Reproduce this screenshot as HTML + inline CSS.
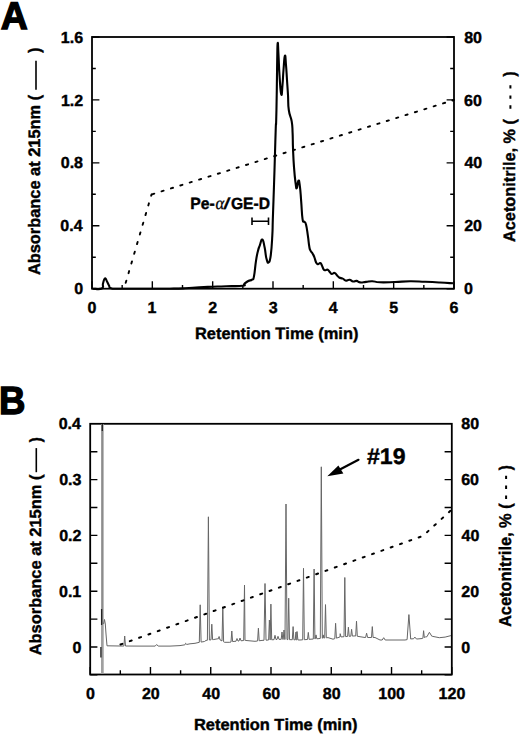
<!DOCTYPE html>
<html><head><meta charset="utf-8"><style>
html,body{margin:0;padding:0;background:#fff;}
svg{display:block;font-family:"Liberation Sans", sans-serif;font-weight:bold;font-kerning:none;text-rendering:geometricPrecision;}
text{fill:#000;stroke:#000;stroke-width:0.4px;}
</style></head><body>
<svg width="520" height="734" viewBox="0 0 520 734">
<rect width="520" height="734" fill="#fff"/>
<rect x="92.0" y="37.0" width="362.0" height="251.7" fill="none" stroke="#000" stroke-width="1.8"/>
<path d="M92.0,288.70h7.4M454.0,288.70h-7.4M92.0,225.77h7.4M454.0,225.77h-7.4M92.0,162.85h7.4M454.0,162.85h-7.4M92.0,99.92h7.4M454.0,99.92h-7.4M92.0,37.00h7.4M454.0,37.00h-7.4M92.0,257.24h3.8M454.0,257.24h-3.8M92.0,194.31h3.8M454.0,194.31h-3.8M92.0,131.39h3.8M454.0,131.39h-3.8M92.0,68.46h3.8M454.0,68.46h-3.8M92.00,288.7v-7.4M152.33,288.7v-7.4M212.67,288.7v-7.4M273.00,288.7v-7.4M333.33,288.7v-7.4M393.67,288.7v-7.4M454.00,288.7v-7.4M122.17,288.7v-3.8M182.50,288.7v-3.8M242.83,288.7v-3.8M303.17,288.7v-3.8M363.50,288.7v-3.8M423.83,288.7v-3.8" stroke="#000" stroke-width="1.4" fill="none"/>
<path d="M93.00,288.70C95.35,288.65 99.13,289.89 101.80,288.50C104.47,287.11 102.17,286.17 103.00,283.50C103.83,280.83 103.83,279.03 104.90,278.50C105.97,277.97 105.91,279.63 107.00,281.50C108.09,283.37 107.93,283.71 109.00,285.50C110.07,287.29 108.07,287.35 111.00,288.20C113.93,289.05 109.60,288.57 120.00,288.70C130.40,288.83 136.67,288.70 150.00,288.70C163.33,288.70 160.67,288.81 170.00,288.70C179.33,288.59 177.21,288.67 185.00,288.30C192.79,287.93 191.81,287.73 199.20,287.30C206.59,286.87 205.50,286.99 212.70,286.70C219.90,286.41 218.25,286.44 226.20,286.20C234.15,285.96 237.65,286.44 242.50,285.80C247.35,285.16 242.85,285.08 244.40,283.80C245.95,282.52 246.25,282.12 248.30,281.00C250.35,279.88 250.58,280.88 252.10,279.60C253.62,278.32 252.96,281.21 254.00,276.20C255.04,271.19 254.96,267.47 256.00,260.80C257.04,254.13 256.89,255.31 257.90,251.20C258.91,247.09 258.63,248.49 259.80,245.40C260.97,242.31 261.02,239.09 262.30,239.60C263.58,240.11 263.48,242.18 264.60,247.30C265.72,252.42 265.38,254.80 266.50,258.80C267.62,262.80 267.65,263.31 268.80,262.30C269.95,261.29 269.87,262.07 270.80,255.00C271.73,247.93 271.77,245.13 272.30,235.80C272.83,226.47 272.48,229.55 272.80,220.00C273.12,210.45 273.05,213.33 273.50,200.00C273.95,186.67 273.91,188.67 274.50,170.00C275.09,151.33 275.25,143.33 275.70,130.00C276.15,116.67 275.91,130.67 276.20,120.00C276.49,109.33 276.53,106.00 276.80,90.00C277.07,74.00 276.96,72.53 277.20,60.00C277.44,47.47 277.35,44.33 277.70,43.00C278.05,41.67 278.02,46.47 278.50,55.00C278.98,63.53 278.78,64.52 279.50,75.00C280.22,85.48 280.40,91.63 281.20,94.30C282.00,96.97 281.89,91.48 282.50,85.00C283.11,78.52 282.86,77.79 283.50,70.00C284.14,62.21 284.23,57.13 284.90,55.80C285.57,54.47 285.44,58.55 286.00,65.00C286.56,71.45 286.47,72.00 287.00,80.00C287.53,88.00 287.52,87.00 288.00,95.00C288.48,103.00 287.81,102.96 288.80,110.00C289.79,117.04 290.69,115.29 291.70,121.40C292.71,127.51 292.25,125.78 292.60,132.90C292.95,140.02 292.63,138.95 293.00,148.10C293.37,157.25 293.33,158.03 294.00,167.20C294.67,176.37 294.75,176.90 295.50,182.50C296.25,188.10 296.03,188.71 296.80,188.20C297.57,187.69 297.57,181.11 298.40,180.60C299.23,180.09 299.15,180.70 299.90,186.30C300.65,191.90 300.51,192.96 301.20,201.60C301.89,210.24 301.73,213.37 302.50,218.70C303.27,224.03 303.17,220.08 304.10,221.60C305.03,223.12 304.99,220.59 306.00,224.40C307.01,228.21 307.05,230.14 307.90,235.90C308.75,241.66 308.53,242.13 309.20,246.00C309.87,249.87 309.47,248.32 310.40,250.40C311.33,252.48 311.63,251.96 312.70,253.80C313.77,255.64 313.49,254.98 314.40,257.30C315.31,259.62 315.17,260.66 316.10,262.50C317.03,264.34 316.81,264.04 317.90,264.20C318.99,264.36 319.13,262.78 320.20,263.10C321.27,263.42 320.99,263.72 321.90,265.40C322.81,267.08 322.67,268.12 323.60,269.40C324.53,270.68 324.31,270.09 325.40,270.20C326.49,270.31 326.47,269.24 327.70,269.80C328.93,270.36 328.93,271.18 330.00,272.30C331.07,273.42 330.47,273.84 331.70,274.00C332.93,274.16 333.21,272.58 334.60,272.90C335.99,273.22 335.67,273.97 336.90,275.20C338.13,276.43 337.65,276.59 339.20,277.50C340.75,278.41 340.86,277.77 342.70,278.60C344.54,279.43 344.26,280.28 346.10,280.60C347.94,280.92 347.73,279.56 349.60,279.80C351.47,280.04 351.26,281.21 353.10,281.50C354.94,281.79 354.66,280.66 356.50,280.90C358.34,281.14 357.47,282.13 360.00,282.40C362.53,282.67 362.72,282.22 366.00,281.90C369.28,281.58 368.57,281.09 372.30,281.20C376.03,281.31 373.95,282.09 380.00,282.30C386.05,282.51 387.00,282.27 395.00,282.00C403.00,281.73 402.00,281.35 410.00,281.30C418.00,281.25 417.00,281.48 425.00,281.80C433.00,282.12 432.53,282.10 440.00,282.50C447.47,282.90 449.53,283.09 453.00,283.30" fill="none" stroke="#000" stroke-width="2.1" stroke-linejoin="round"/>
<path d="M124,288.7L151.5,194.5" fill="none" stroke="#000" stroke-width="1.9" stroke-dasharray="2.2 7.88" stroke-dashoffset="3.98" stroke-linecap="round"/>
<path d="M151.5,194.5L454,100" fill="none" stroke="#000" stroke-width="1.9" stroke-dasharray="2.2 7.63" stroke-dashoffset="9.13" stroke-linecap="round"/>
<path d="M252,221.2h16.5M252,217.5v7.5M268.5,217.5v7.5" stroke="#000" stroke-width="1.6" fill="none"/>
<text style="stroke-width:1.4px" font-size="38.663" transform="matrix(0.9676,0,0,1,0.77,28.80)">A</text>
<text font-size="16.000" transform="matrix(1.0000,0,0,1,74.26,294.30)">0</text>
<text font-size="16.000" transform="matrix(1.0000,0,0,1,60.34,231.37)">0.4</text>
<text font-size="16.000" transform="matrix(1.0000,0,0,1,60.75,168.45)">0.8</text>
<text font-size="16.000" transform="matrix(1.0000,0,0,1,60.90,105.52)">1.2</text>
<text font-size="16.000" transform="matrix(1.0000,0,0,1,60.84,42.60)">1.6</text>
<text font-size="16.000" transform="matrix(1.0000,0,0,1,464.07,294.30)">0</text>
<text font-size="16.000" transform="matrix(1.0000,0,0,1,464.15,231.37)">20</text>
<text font-size="16.000" transform="matrix(1.0000,0,0,1,464.46,168.45)">40</text>
<text font-size="16.000" transform="matrix(1.0000,0,0,1,464.11,105.52)">60</text>
<text font-size="16.000" transform="matrix(1.0000,0,0,1,464.19,42.60)">80</text>
<text font-size="16.000" transform="matrix(1.0000,0,0,1,87.56,313.20)">0</text>
<text font-size="16.000" transform="matrix(1.0000,0,0,1,147.60,313.20)">1</text>
<text font-size="16.000" transform="matrix(1.0000,0,0,1,208.26,313.20)">2</text>
<text font-size="16.000" transform="matrix(1.0000,0,0,1,268.66,313.20)">3</text>
<text font-size="16.000" transform="matrix(1.0000,0,0,1,328.81,313.20)">4</text>
<text font-size="16.000" transform="matrix(1.0000,0,0,1,389.19,313.20)">5</text>
<text font-size="16.000" transform="matrix(1.0000,0,0,1,449.55,313.20)">6</text>
<text font-size="16.352" transform="matrix(1.0062,0,0,1,194.90,338.90)">Retention Time (min)</text>
<text font-size="16.643" transform="matrix(0,-0.9852,1,0,39.65,275.11)">Absorbance at 215nm (</text>
<text font-size="16.643" transform="matrix(0,-0.9155,1,0,39.65,52.81)">)</text>
<path d="M36,60.8V89.8" stroke="#000" stroke-width="1.6"/>
<text font-size="16.570" transform="matrix(0,-0.9817,1,0,515.30,241.91)">Acetonitrile, % (</text>
<text font-size="16.570" transform="matrix(0,-0.9195,1,0,515.30,76.51)">)</text>
<path d="M510.4,85.2v3.4M510.4,95.4v3.4M510.4,105.3v3.4" stroke="#000" stroke-width="2"/>
<text font-size="16.279" transform="matrix(0.9664,0,0,1,190.15,209.30)">Pe-</text>
<text style="stroke-width:0.25px" font-size="18.052" transform="matrix(0.9201,0,0,1,215.61,209.41)"><tspan font-family='"Liberation Serif", serif' font-weight="normal" font-style="italic">α</tspan></text>
<text font-size="16.068" transform="matrix(1.5456,0,0,1,223.60,209.44)"><tspan font-family='"Liberation Sans", sans-serif' font-weight="normal" font-style="normal">/</tspan></text>
<text font-size="16.279" transform="matrix(0.9607,0,0,1,230.96,209.30)">GE-D</text>
<rect x="90.2" y="423.8" width="361.6" height="250.7" fill="none" stroke="#000" stroke-width="1.8"/>
<path d="M90.2,674.90h7.2M451.8,674.90h-7.2M90.2,647.00h7.2M451.8,647.00h-7.2M90.2,619.10h7.2M451.8,619.10h-7.2M90.2,591.20h7.2M451.8,591.20h-7.2M90.2,563.30h7.2M451.8,563.30h-7.2M90.2,535.40h7.2M451.8,535.40h-7.2M90.2,507.50h7.2M451.8,507.50h-7.2M90.2,479.60h7.2M451.8,479.60h-7.2M90.2,451.70h7.2M451.8,451.70h-7.2M90.20,674.5v-7.6M150.47,674.5v-7.6M210.73,674.5v-7.6M271.00,674.5v-7.6M331.27,674.5v-7.6M391.53,674.5v-7.6M451.80,674.5v-7.6M120.33,674.5v-4.3M180.60,674.5v-4.3M240.87,674.5v-4.3M301.13,674.5v-4.3M361.40,674.5v-4.3M421.67,674.5v-4.3" stroke="#000" stroke-width="1.4" fill="none"/>
<rect x="101.0" y="424" width="2.7" height="250" fill="#a0a0a0"/><rect x="101.9" y="424" width="0.9" height="200" fill="#888"/>
<path d="M101.6,609V625M100.9,647V657.5M102.3,424V431" stroke="#222" stroke-width="1.3"/>
<polyline points="103.60,624.00 104.50,619.50 105.30,624.00 106.00,634.00 107.00,645.80 120.00,646.00 123.90,646.02 124.70,636.00 125.50,646.03 140.00,646.10 155.20,646.10 156.70,644.50 158.20,646.10 170.00,646.10 180.00,645.60 184.40,644.90 185.00,644.80 185.60,643.30 186.80,644.44 190.00,643.80 195.00,643.30 199.00,642.40 199.30,642.35 200.20,604.80 201.10,642.06 204.50,641.50 206.00,640.40 207.40,640.25 208.40,516.80 209.40,640.03 211.00,639.85 211.80,624.20 212.60,639.68 213.30,639.60 217.50,638.80 218.10,639.07 219.10,636.50 220.10,639.99 221.00,640.40 222.00,640.94 222.80,606.80 223.60,641.81 224.50,642.30 229.80,642.30 231.00,642.00 231.80,631.00 232.60,641.60 233.00,641.50 236.00,641.23 237.00,638.50 238.00,641.04 239.00,640.95 240.00,638.00 241.00,640.77 243.70,640.52 244.50,585.00 245.00,640.40 245.30,640.43 255.00,641.30 257.60,640.97 258.40,628.20 259.20,640.76 262.00,640.40 264.00,640.28 265.00,583.50 266.00,640.16 268.60,640.00 269.40,620.00 270.10,639.90 270.20,639.90 270.90,604.10 271.70,639.81 274.00,639.67 275.00,635.30 276.00,639.54 277.00,639.48 278.00,636.30 279.00,639.36 280.00,639.30 281.20,639.34 282.00,632.00 282.80,639.40 283.20,639.41 284.00,630.00 284.80,639.47 285.00,639.47 286.00,504.00 287.00,639.54 287.90,639.58 288.70,598.20 289.50,639.63 292.30,639.73 293.10,626.60 293.90,639.79 295.20,639.83 296.00,632.00 296.10,639.86 296.80,639.89 297.00,631.50 297.90,639.93 300.00,640.00 302.70,639.81 303.50,568.30 304.30,639.69 307.50,639.46 308.30,632.40 309.10,639.34 313.30,639.04 314.10,569.00 314.90,638.92 315.20,638.90 316.00,634.90 316.80,638.79 318.00,638.70 320.30,638.45 321.30,466.80 322.30,638.23 322.60,638.19 323.20,634.90 323.80,638.06 324.70,637.96 325.50,604.60 326.30,637.79 328.00,637.60 333.00,639.20 334.80,638.63 335.60,623.30 336.40,638.13 339.40,637.19 340.00,637.00 340.20,633.70 341.00,636.93 344.00,636.71 344.80,577.50 345.60,636.59 347.60,636.44 348.40,627.20 349.20,636.33 350.80,636.21 351.60,629.30 352.40,636.09 355.00,635.90 355.70,636.01 356.50,621.20 357.30,636.27 365.00,637.50 365.60,637.50 366.60,633.20 367.60,637.50 371.50,637.50 372.30,626.60 373.10,637.50 375.00,637.50 380.00,640.00 382.20,640.00 383.70,637.70 385.20,640.00 395.00,640.00 405.00,640.00 407.10,639.64 408.90,614.60 410.70,639.02 412.00,638.80 413.40,638.86 414.90,637.10 416.40,638.98 417.00,639.00 422.30,638.50 422.90,638.21 423.60,630.70 424.30,637.53 425.60,636.90 426.90,636.78 429.40,632.30 431.90,636.34 432.30,636.30 439.30,637.70 445.10,637.10 451.00,635.60" fill="none" stroke="#666" stroke-width="1.0" stroke-linejoin="round"/>
<polyline points="120.50,644.50 421.00,536.60 427.00,532.20 451.00,510.30" fill="none" stroke="#000" stroke-width="2.0" stroke-dasharray="2.0 7.9" stroke-linecap="round"/>
<path d="M358.5,459.8L337,471" stroke="#000" stroke-width="2.2" fill="none" stroke-linecap="round"/>
<path d="M327.3,476.3L338.4,465.4L343.4,473.6Z" fill="#000"/>
<text style="stroke-width:1.4px" font-size="39.390" transform="matrix(0.9283,0,0,1,-0.95,414.30)">B</text>
<text font-size="16.000" transform="matrix(1.0000,0,0,1,72.56,652.60)">0</text>
<text font-size="16.000" transform="matrix(1.0000,0,0,1,59.00,596.80)">0.1</text>
<text font-size="16.000" transform="matrix(1.0000,0,0,1,59.20,541.00)">0.2</text>
<text font-size="16.000" transform="matrix(1.0000,0,0,1,59.14,485.20)">0.3</text>
<text font-size="16.000" transform="matrix(1.0000,0,0,1,58.64,429.40)">0.4</text>
<text font-size="16.000" transform="matrix(1.0000,0,0,1,461.17,652.60)">0</text>
<text font-size="16.000" transform="matrix(1.0000,0,0,1,461.25,596.80)">20</text>
<text font-size="16.000" transform="matrix(1.0000,0,0,1,461.56,541.00)">40</text>
<text font-size="16.000" transform="matrix(1.0000,0,0,1,461.21,485.20)">60</text>
<text font-size="16.000" transform="matrix(1.0000,0,0,1,461.29,429.40)">80</text>
<text font-size="16.000" transform="matrix(1.0000,0,0,1,86.06,699.20)">0</text>
<text font-size="16.000" transform="matrix(1.0000,0,0,1,141.92,699.20)">20</text>
<text font-size="16.000" transform="matrix(1.0000,0,0,1,202.34,699.20)">40</text>
<text font-size="16.000" transform="matrix(1.0000,0,0,1,262.44,699.20)">60</text>
<text font-size="16.000" transform="matrix(1.0000,0,0,1,322.74,699.20)">80</text>
<text font-size="16.000" transform="matrix(1.0000,0,0,1,378.31,699.20)">100</text>
<text font-size="16.000" transform="matrix(1.0000,0,0,1,438.58,699.20)">120</text>
<text font-size="16.134" transform="matrix(1.0192,0,0,1,194.00,729.50)">Retention Time (min)</text>
<text font-size="16.279" transform="matrix(0,-1.0095,1,0,41.10,655.31)">Absorbance at 215nm (</text>
<text font-size="16.279" transform="matrix(0,-0.9359,1,0,41.10,442.21)">)</text>
<path d="M36.3,448.1V472.2" stroke="#000" stroke-width="1.6"/>
<text font-size="17.006" transform="matrix(0,-0.9628,1,0,510.80,627.01)">Acetonitrile, % (</text>
<text font-size="17.006" transform="matrix(0,-0.8959,1,0,510.80,470.31)">)</text>
<path d="M506.1,475.7v3.4M506.1,485.5v3.4M506.1,495.6v3.4" stroke="#000" stroke-width="2"/>
<text font-size="22.485" transform="matrix(1.0276,0,0,1,367.01,464.20)">#19</text>
</svg>
</body></html>
